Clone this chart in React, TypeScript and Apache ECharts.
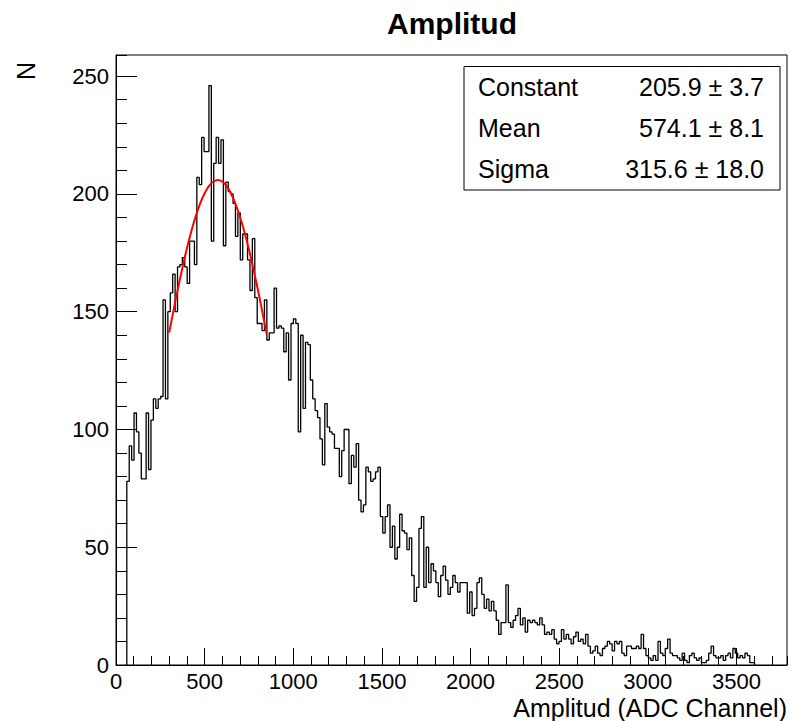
import React, { useEffect, useRef } from "react";
import * as echarts from "echarts";

// Histogram "Amplitud": first bin low edge and bin width (ADC channels)
const binStart = 61;
const binWidth = 13.62;

// Bin contents, left to right
const countsRise = [
  78, 93, 87, 107, 99, 90, 79, 79, 107, 83,
  104, 113, 109, 113, 114, 155, 113, 150, 158, 166,
  150, 169, 170, 173, 169, 162, 180, 180, 170, 207,
  204, 224, 218, 218, 246, 180, 213, 224, 213, 223,
  178, 205, 201, 200, 196, 182, 192, 172, 183, 183,
  172, 159, 181, 156, 145, 145, 142, 155, 138, 141,
  141, 160, 143, 144,
];
const countsFall = [
  143, 133, 141, 121, 145, 147, 145, 99, 140, 109,
  137, 136, 121, 113, 108, 105, 96, 85, 111, 101,
  99, 98, 92, 92, 80, 91, 100, 100, 77, 89,
  84, 94, 70, 65, 68, 84, 82, 78, 79, 82,
  84, 63, 56, 63, 68, 50, 59, 45, 50, 64,
  57, 56, 49, 54, 38, 27, 33, 58, 63, 33,
  50, 35, 43, 40, 35, 29, 38, 42, 36, 30,
  33, 38, 35, 31,
];
const countsLow = [
  35, 35, 35, 22, 31, 21, 24, 35, 37, 30,
  24, 28, 23, 27, 23, 19, 13, 18, 18, 34,
  18, 16, 19, 21, 24, 17, 20, 14, 19, 18,
  19, 18, 17, 20, 17, 13, 14, 13, 15, 11,
  9, 10, 15, 11, 13, 11, 9, 12, 14, 10,
  11, 9, 13, 8, 5, 6, 8, 5, 4, 7,
  8, 10, 9, 6, 10, 9,
];
const countsTail = [
  10, 5, 4, 8, 8, 7, 7, 8, 7, 13,
  7, 4, 3, 2, 4, 2, 10, 5, 4, 7,
  11, 5, 4, 4, 3, 2, 5, 2, 1, 4,
  5, 3, 2, 3, 1, 1, 2, 5, 8, 4,
  3, 3, 4, 2, 4, 5, 3, 7, 5, 3,
  4, 3, 5, 4, 1, 1,
];

// Gaussian fit curve
const fitX = [300, 325, 350, 375, 400, 425, 450, 475, 500, 525, 550, 575, 600, 625, 650, 675, 700, 725, 750, 775, 800, 825, 850];
const fitY = [141.2, 150.8, 160.0, 168.8, 176.9, 184.2, 190.6, 196.0, 200.3, 203.4, 205.3, 205.9, 205.2, 203.2, 200.0, 195.6, 190.1, 183.7, 176.3, 168.1, 159.4, 150.1, 140.5];

// Fit statistics box
const statNames = ["Constant", "Mean", "Sigma"];
const statValues = ["205.9 \u00b1 3.7", "574.1 \u00b1 8.1", "315.6 \u00b1 18.0"];

const xTicks = { min: 0, max: 3785, major: 500, minor: 100 };
const yTicks = { min: 0, max: 259, major: 50, minor: 10 };

const FONT = '"Liberation Sans", Arial, Helvetica, sans-serif';

export default function App() {
  const ref = useRef<HTMLDivElement>(null);

  useEffect(() => {
    if (!ref.current) return;
    const chart = echarts.init(ref.current, undefined, { renderer: "svg" });

    const counts = [...countsRise, ...countsFall, ...countsLow, ...countsTail];
    const n = counts.length;
    const histData: number[][] = [[binStart, 0]];
    counts.forEach((c, i) => histData.push([binStart + i * binWidth, c]));
    histData.push([binStart + n * binWidth, counts[n - 1]]);
    histData.push([binStart + n * binWidth, 0]);

    const fitData = fitX.map((x, i) => [x, fitY[i]]);

    const labelStyle = {
      color: "#000",
      fontSize: 22,
      fontFamily: FONT,
      formatter: (v: number) => String(v),
    };

    const statGraphics: any[] = [
      {
        type: "rect",
        shape: { x: 464, y: 66.5, width: 316, height: 123.5 },
        style: { fill: "#fff", stroke: "#000", lineWidth: 1 },
        z: 10,
      },
    ];
    const rowsY = [87, 128, 169];
    statNames.forEach((name, i) => {
      statGraphics.push({
        type: "text",
        x: 478,
        y: rowsY[i],
        z: 11,
        style: {
          text: name,
          fill: "#000",
          font: `25px ${FONT}`,
          textAlign: "left",
          align: "left",
          textVerticalAlign: "middle",
          verticalAlign: "middle",
        },
      });
      statGraphics.push({
        type: "text",
        x: 764,
        y: rowsY[i],
        z: 11,
        style: {
          text: statValues[i],
          fill: "#000",
          font: `25px ${FONT}`,
          textAlign: "right",
          align: "right",
          textVerticalAlign: "middle",
          verticalAlign: "middle",
        },
      });
    });

    chart.setOption({
      animation: false,
      backgroundColor: "#fff",
      grid: {
        left: 116,
        right: 4,
        top: 55,
        bottom: 56,
        show: true,
        borderColor: "#000",
        borderWidth: 1,
        backgroundColor: "transparent",
      },
      xAxis: [
        {
          type: "value",
          min: xTicks.min,
          max: xTicks.max,
          interval: xTicks.major,
          position: "bottom",
          axisLine: { show: true, lineStyle: { color: "#000", width: 1 } },
          axisTick: { show: true, inside: true, length: 17, lineStyle: { color: "#000", width: 1 } },
          axisLabel: { ...labelStyle, margin: 5, showMaxLabel: false },
          splitLine: { show: false },
        },
        {
          type: "value",
          min: xTicks.min,
          max: xTicks.max,
          interval: xTicks.minor,
          position: "bottom",
          axisLine: { show: false },
          axisTick: { show: true, inside: true, length: 9, lineStyle: { color: "#000", width: 1 } },
          axisLabel: { show: false },
          splitLine: { show: false },
        },
      ],
      yAxis: [
        {
          type: "value",
          min: yTicks.min,
          max: yTicks.max,
          interval: yTicks.major,
          position: "left",
          axisLine: { show: true, lineStyle: { color: "#000", width: 1 } },
          axisTick: { show: true, inside: true, length: 21, lineStyle: { color: "#000", width: 1 } },
          axisLabel: { ...labelStyle, margin: 7, showMaxLabel: false },
          splitLine: { show: false },
        },
        {
          type: "value",
          min: yTicks.min,
          max: yTicks.max,
          interval: yTicks.minor,
          position: "left",
          axisLine: { show: false },
          axisTick: { show: true, inside: true, length: 11, lineStyle: { color: "#000", width: 1 } },
          axisLabel: { show: false },
          splitLine: { show: false },
        },
      ],
      series: [
        {
          type: "line",
          xAxisIndex: 0,
          yAxisIndex: 0,
          step: "end",
          symbol: "none",
          data: histData,
          lineStyle: { color: "#000", width: 1.3 },
          z: 3,
        },
        {
          type: "line",
          xAxisIndex: 0,
          yAxisIndex: 0,
          smooth: true,
          symbol: "none",
          data: fitData,
          lineStyle: { color: "#ff0000", width: 2 },
          z: 4,
        },
      ],
      graphic: [
        {
          type: "text",
          x: 452,
          y: 23,
          style: {
            text: "Amplitud",
            fill: "#000",
            font: `bold 30px ${FONT}`,
            textAlign: "center",
            align: "center",
            textVerticalAlign: "middle",
            verticalAlign: "middle",
          },
        },
        {
          type: "text",
          x: 787,
          y: 708,
          style: {
            text: "Amplitud (ADC Channel)",
            fill: "#000",
            font: `25px ${FONT}`,
            textAlign: "right",
            align: "right",
            textVerticalAlign: "middle",
            verticalAlign: "middle",
          },
        },
        {
          type: "text",
          x: 26,
          y: 71,
          rotation: Math.PI / 2,
          style: {
            text: "N",
            fill: "#000",
            font: `25px ${FONT}`,
            textAlign: "center",
            align: "center",
            textVerticalAlign: "middle",
            verticalAlign: "middle",
          },
        },
        ...statGraphics,
      ],
    });

    return () => chart.dispose();
  }, []);

  return (
    <div
      ref={ref}
      style={{ position: "absolute", left: 0, top: 0, width: 791, height: 721 }}
    />
  );
}
